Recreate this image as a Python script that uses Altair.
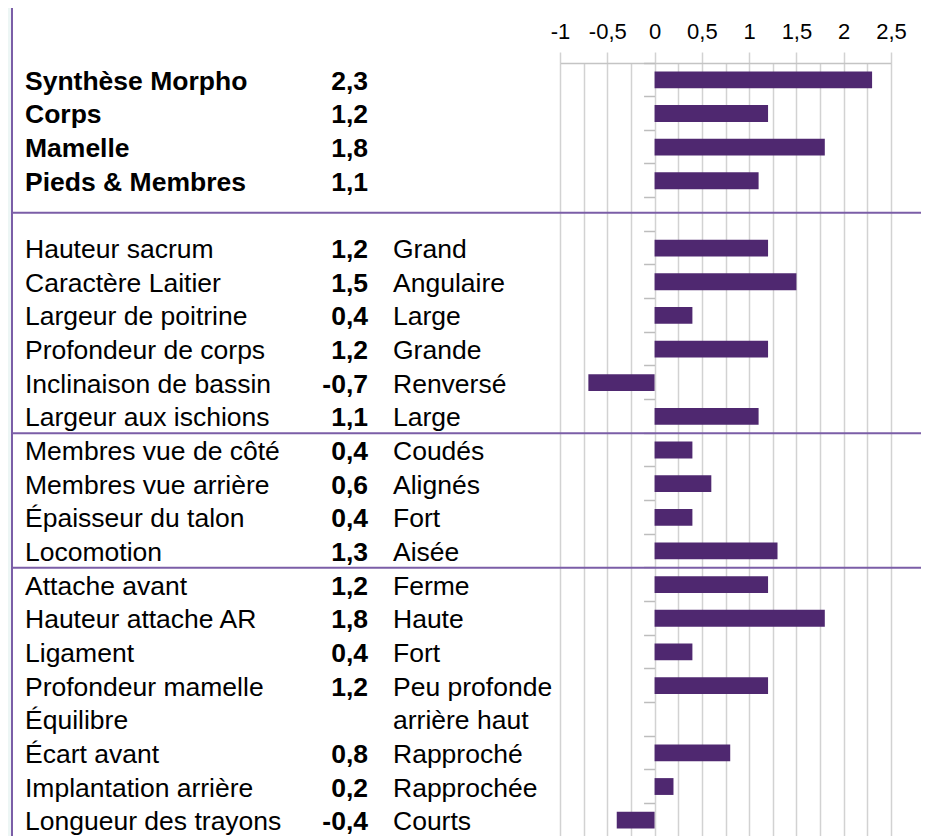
import altair as alt
import pandas as pd

# ---------------- data ----------------
categories = [
    "Synthèse Morpho", "Corps", "Mamelle", "Pieds & Membres", " ",
    "Hauteur sacrum", "Caractère Laitier", "Largeur de poitrine",
    "Profondeur de corps", "Inclinaison de bassin", "Largeur aux ischions",
    "Membres vue de côté", "Membres vue arrière", "Épaisseur du talon",
    "Locomotion", "Attache avant", "Hauteur attache AR", "Ligament",
    "Profondeur mamelle", "Équilibre", "Écart avant", "Implantation arrière",
    "Longueur des trayons",
]
values = [2.3, 1.2, 1.8, 1.1, None,
          1.2, 1.5, 0.4, 1.2, -0.7, 1.1,
          0.4, 0.6, 0.4, 1.3,
          1.2, 1.8, 0.4, 1.2, None, 0.8, 0.2, -0.4]
directions = ["", "", "", "", "",
              "Grand", "Angulaire", "Large", "Grande", "Renversé", "Large",
              "Coudés", "Alignés", "Fort", "Aisée",
              "Ferme", "Haute", "Fort", "Peu profonde", "arrière haut",
              "Rapproché", "Rapprochée", "Courts"]
bold_rows = ["Synthèse Morpho", "Corps", "Mamelle", "Pieds & Membres"]
axis_ticks = [-1.0, -0.75, -0.5, -0.25, 0.0, 0.25, 0.5, 0.75, 1.0,
              1.25, 1.5, 1.75, 2.0, 2.25, 2.5]
x_domain = [-1.0, 2.5]
# separators: (category, position inside its band)
sep_mid = [" "]
sep_start = ["Membres vue de côté", "Attache avant"]

# ---------------- table ----------------
def fmt(v):
    return "" if v is None else f"{v:.1f}".replace(".", ",")

df = pd.DataFrame({
    "cat": categories,
    "value": values,
    "label": [fmt(v) for v in values],
    "direction": directions,
    "bold": [c in bold_rows for c in categories],
})

FONT = "Liberation Sans"
PURPLE_LINE = "#7b5ea7"
BAR = "#4f2870"
GRID = "#d2d2d2"
FS = 26.5

W = 331
H = 774
PAD_L, PAD_T, PAD_R = 552, 55, 30
zero_px = W * (0 - x_domain[0]) / (x_domain[1] - x_domain[0])

half_test = "abs(datum.value*2 - round(datum.value*2)) > 0.01"
x_axis = alt.Axis(
    orient="top", values=axis_ticks, title=None,
    labelExpr=half_test + " ? '' : replace(datum.value < 0 ? '-' + toString(abs(datum.value)) : toString(datum.value), '.', ',')",
    labelFont=FONT, labelFontSize=22, labelColor="#000000", labelPadding=9,
    labelOverlap=False, labelFlush=False,
    tickSize=11, tickColor=GRID, tickWidth=1.5,
    tickOpacity={"condition": {"test": half_test, "value": 0}, "value": 1},
    domainColor="#c4c4c4", domainWidth=1.5,
    grid=True, gridColor=GRID, gridWidth=1.5,
)
x_enc = alt.X("value:Q", scale=alt.Scale(domain=x_domain, nice=False, zero=False), axis=x_axis)

y_axis = alt.Axis(orient="left", offset=-zero_px, labels=False, domain=False, grid=False,
                  ticks=True, tickSize=11, tickColor="#bdbdbd", tickWidth=1.5,
                  bandPosition=0, title=None)
y_scale = alt.Scale(domain=categories, paddingInner=0, paddingOuter=0)
y_enc = alt.Y("cat:N", scale=y_scale, sort=categories, axis=y_axis)

base = alt.Chart(df)
one = alt.Data(values=[{"k": 1}])

strip = alt.Chart(one).mark_rect(color="#edf6f5").encode(
    x=alt.value(-PAD_L), x2=alt.value(-PAD_L + 3), y=alt.value(-PAD_T), y2=alt.value(H))
vline = alt.Chart(one).mark_rule(color=PURPLE_LINE, strokeWidth=2).encode(
    x=alt.value(-PAD_L + 4), y=alt.value(-PAD_T), y2=alt.value(H))

bars = base.mark_bar(color=BAR, height={"band": 0.5}).encode(x=x_enc, y=y_enc)

names_bold = base.transform_filter("datum.bold").mark_text(
    align="left", baseline="middle", font=FONT, fontSize=FS, fontWeight="bold",
    color="#000000", dy=2).encode(x=alt.value(-535), y=y_enc, text="cat:N")
names = base.transform_filter("!datum.bold").mark_text(
    align="left", baseline="middle", font=FONT, fontSize=FS,
    color="#000000", dy=2).encode(x=alt.value(-535), y=y_enc, text="cat:N")
vals = base.mark_text(
    align="right", baseline="middle", font=FONT, fontSize=FS, fontWeight="bold",
    color="#000000", dy=2).encode(x=alt.value(-192), y=y_enc, text="label:N")
dirs = base.mark_text(
    align="left", baseline="middle", font=FONT, fontSize=FS,
    color="#000000", dy=2).encode(x=alt.value(-167), y=y_enc, text="direction:N")

sep_df1 = pd.DataFrame({"cat": sep_mid})
sep_df2 = pd.DataFrame({"cat": sep_start})
sep1 = alt.Chart(sep_df1).mark_rule(color=PURPLE_LINE, strokeWidth=2).encode(
    y=alt.Y("cat:N", scale=y_scale, sort=categories, axis=y_axis, bandPosition=0.45),
    x=alt.value(-PAD_L + 4), x2=alt.value(W + PAD_R))
sep2 = alt.Chart(sep_df2).mark_rule(color=PURPLE_LINE, strokeWidth=2).encode(
    y=alt.Y("cat:N", scale=y_scale, sort=categories, axis=y_axis, bandPosition=0),
    x=alt.value(-PAD_L + 4), x2=alt.value(W + PAD_R))

chart = alt.layer(strip, vline, bars, sep1, sep2, names_bold, names, vals, dirs).properties(
    width=W, height=H, background="#ffffff",
    padding={"left": PAD_L, "top": PAD_T, "right": PAD_R, "bottom": 0},
    autosize=alt.AutoSizeParams(type="none"),
).configure_view(stroke=None)

chart.save("out.html", embed_options={"renderer": "svg", "actions": False})
